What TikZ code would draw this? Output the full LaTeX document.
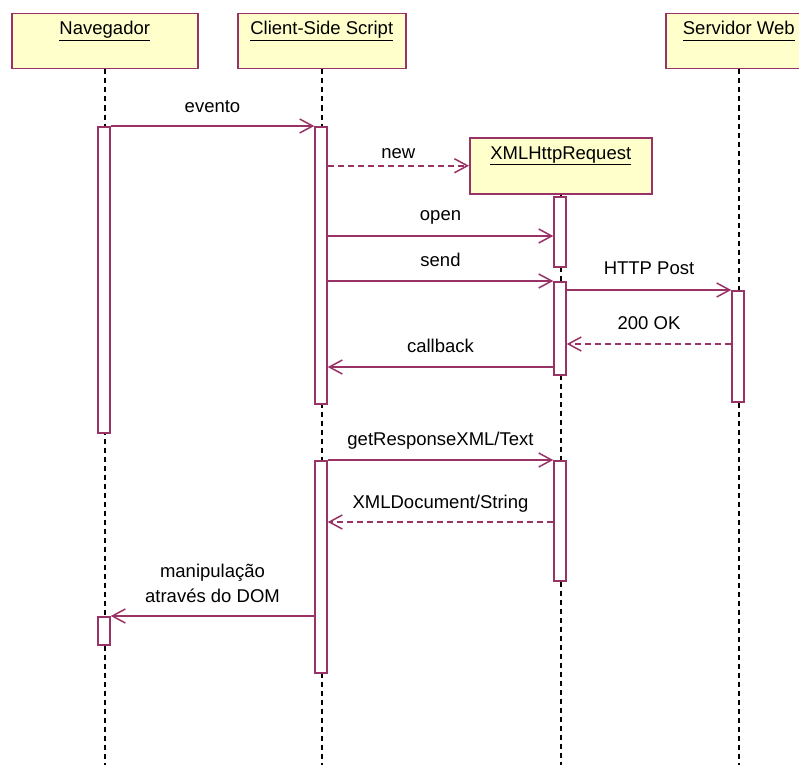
\documentclass[tikz,border=0pt]{standalone}
\usepackage{fontspec}
\setmainfont{Liberation Sans}
\usetikzlibrary{arrows.meta}
\definecolor{umlline}{HTML}{993366}
\definecolor{umlfill}{HTML}{FFFFCC}
\begin{document}
\begin{tikzpicture}[x=1pt,y=-1pt,
  every node/.style={font=\fontsize{18.5}{25}\selectfont},
  objbox/.style={draw=umlline, fill=umlfill, line width=1.5pt, inner sep=0pt,
    minimum height=55pt, anchor=north west},
  objname/.style={anchor=base, inner sep=0pt},
  life/.style={draw=black, line width=1.6pt, dash pattern=on 5pt off 4pt},
  act/.style={draw=umlline, fill=white, line width=1.5pt, inner sep=0pt,
    minimum width=12pt, anchor=north},
  msg/.style={draw=umlline, line width=1.5pt, -{Straight Barb[length=13pt,width=14pt]}},
  reply/.style={msg, dash pattern=on 6pt off 4pt},
  lbl/.style={midway, anchor=base, yshift=14pt, inner sep=0pt, align=center}]

\clip (0,0) rectangle (799,765);
\useasboundingbox (0,0) rectangle (799,765);
\coordinate (bottom) at (0,765);

% participants
\node[objbox, minimum width=186pt] (nav) at (11,13) {};
\node[objbox, minimum width=168pt] (cs) at (237,13) {};
\node[objbox, minimum width=182pt, minimum height=56pt] (xr) at (469,137) {};
\node[objbox, minimum width=146pt] (sw) at (665,13) {};
\node[objname] (navlbl) at ([yshift=-22pt]nav.north) {\underline{Navegador}};
\node[objname] (cslbl) at ([yshift=-22pt]cs.north) {\underline{Client-Side Script}};
\node[objname] (xrlbl) at ([yshift=-22pt]xr.north) {\underline{XMLHttpRequest}};
\node[objname] (swlbl) at ([yshift=-22pt]sw.north) {\underline{Servidor Web\vphantom{g}}};

% lifelines
\draw[life] (nav.south) -- (nav.south |- bottom);
\draw[life] (cs.south) -- (cs.south |- bottom);
\draw[life] (xr.south) -- (xr.south |- bottom);
\draw[life] (sw.south) -- (sw.south |- bottom);

% activations
\node[act, minimum height=306pt] (nav1) at (104,126) {};
\node[act, minimum height=28pt]  (nav2) at (104,616) {};
\node[act, minimum height=277pt] (cs1) at (321,126) {};
\node[act, minimum height=212pt] (cs2) at (321,460) {};
\node[act, minimum height=70pt]  (xr1) at (560,196) {};
\node[act, minimum height=93pt]  (xr2) at (560,281) {};
\node[act, minimum height=120pt] (xr3) at (560,460) {};
\node[act, minimum height=111pt] (sw1) at (738,290) {};

% message heights
\coordinate (yopen) at (0,236);
\coordinate (yok) at (0,344);
\coordinate (ycb) at (0,367);
\coordinate (yxd) at (0,522);

% messages
\draw[msg] (nav1.north east) -- node[lbl] {evento} (cs1.north west);
\draw[reply] (cs1.east |- xr.west) -- node[lbl, yshift=-7pt] {new} (xr.west);
\draw[msg] (cs1.east |- yopen) -- node[lbl, yshift=2pt] {open} (xr1.west |- yopen);
\draw[msg] (cs1.east |- xr2.north) -- node[lbl, yshift=1pt] {send} (xr2.north west);
\draw[msg] (xr2.east |- sw1.north) -- node[lbl, yshift=2pt] {HTTP Post} (sw1.north west);
\draw[reply] (sw1.west |- yok) -- node[lbl, yshift=1pt] {200 OK} (xr2.east |- yok);
\draw[msg] (xr2.west |- ycb) -- node[lbl, yshift=1pt] {callback} (cs1.east |- ycb);
\draw[msg] (cs2.north east) -- node[lbl, yshift=1pt] {getResponseXML/Text} (xr3.north west);
\draw[reply] (xr3.west |- yxd) -- node[lbl] {XMLDocument/String} (cs2.east |- yxd);
\draw[msg] (cs2.west |- nav2.north) -- node[lbl] {manipulação\\através do DOM} (nav2.north east);
\end{tikzpicture}
\end{document}
